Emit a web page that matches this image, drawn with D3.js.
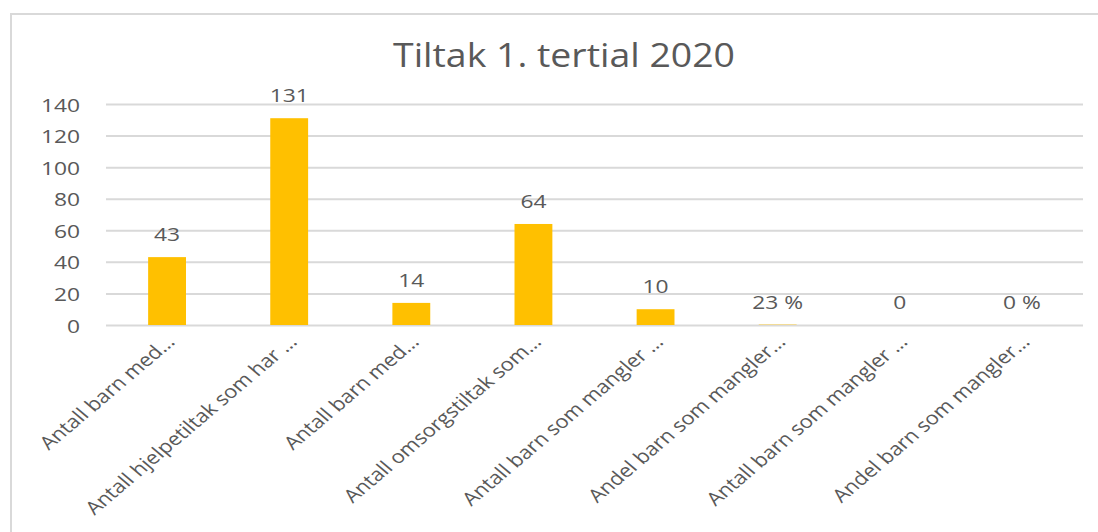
<!DOCTYPE html>
<html><head><meta charset="utf-8">
<script src="https://cdn.jsdelivr.net/npm/d3@7"></script>
<style>body{margin:0;background:#fff}svg{display:block}text{font-family:"Open Sans",sans-serif}</style>
</head><body><svg id="c" width="1098" height="532"></svg>
<script>
const categories = ["Antall barn med…","Antall hjelpetiltak som har …","Antall barn med…","Antall omsorgstiltak som…","Antall barn som mangler …","Andel barn som mangler…","Antall barn som mangler …","Andel barn som mangler…"];
const values = [43,131,14,64,10,0.23,0,0];
const valueLabels = ["43","131","14","64","10","23 %","0","0 %"];
const yTicks = [0,20,40,60,80,100,120,140];
const title = "Tiltak 1. tertial 2020";

const SX = 1.2;
const svg = d3.select("#c");
svg.append("rect").attr("x",11).attr("y",14).attr("width",1100).attr("height",530)
  .attr("fill","#fff").attr("stroke","#d9d9d9").attr("stroke-width",2);

const m = {l:106, r:1083, t:104, b:325};
const x = d3.scaleBand().domain(d3.range(categories.length)).range([m.l,m.r]).paddingInner(0.69).paddingOuter(0.345);
const y = d3.scaleLinear().domain([0,140]).range([m.b,m.t]);

svg.append("text").attr("transform","translate(564,67) scale(1.17,1)").attr("text-anchor","middle")
  .attr("font-size",32).attr("fill","#595959").text(title);

const yAxis = svg.append("g").attr("transform",`translate(${m.l},0)`)
  .call(d3.axisLeft(y).tickValues(yTicks).tickSize(-(m.r-m.l)).tickFormat(""));
yAxis.select(".domain").remove();
yAxis.selectAll(".tick line").attr("stroke","#d9d9d9").attr("stroke-width",2);

svg.selectAll(".yl").data(yTicks).join("text").attr("class","yl")
  .attr("transform",d=>`translate(80,${y(d)+7.5}) scale(${SX},1)`)
  .attr("text-anchor","end").attr("font-size",19).attr("fill","#595959").text(d=>d);

svg.selectAll(".bar").data(values).join("rect").attr("class","bar")
  .attr("x",(d,i)=>x(i)).attr("width",x.bandwidth())
  .attr("y",d=>y(d)).attr("height",d=>y(0)-y(d)).attr("fill","#FFC000");

svg.selectAll(".vl").data(values).join("text").attr("class","vl")
  .attr("transform",(d,i)=>`translate(${x(i)+x.bandwidth()/2},${y(d)-16}) scale(${SX},1)`)
  .attr("text-anchor","middle").attr("font-size",19).attr("fill","#595959")
  .text((d,i)=>valueLabels[i]);

svg.selectAll(".cl").data(categories).join("text").attr("class","cl")
  .attr("transform",(d,i)=>`translate(${x(i)+x.bandwidth()/2+9},${m.b+18}) scale(1.18,1) rotate(-45)`)
  .attr("text-anchor","end").attr("font-size",18.5).attr("fill","#595959")
  .text(d=>d);
</script></body></html>
